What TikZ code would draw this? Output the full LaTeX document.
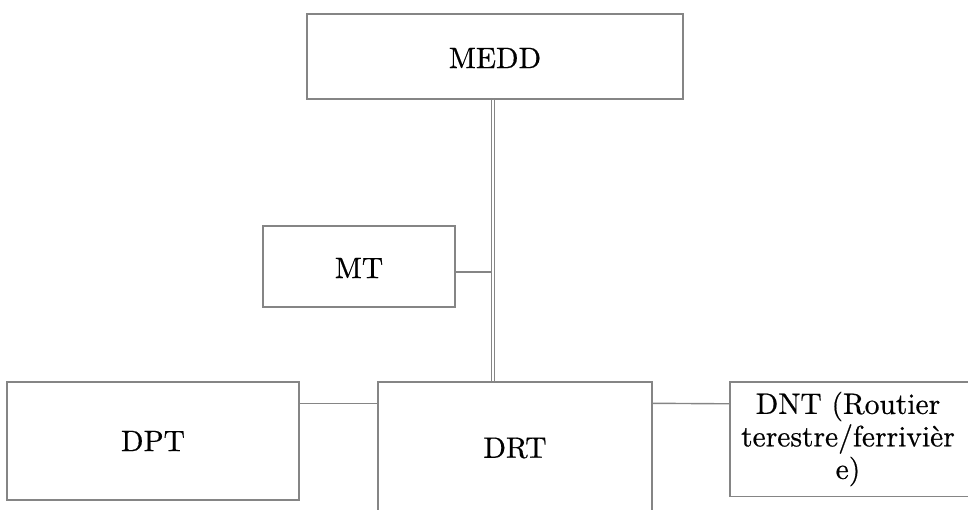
\documentclass[tikz,border=0pt]{standalone}
\usepackage{fontspec}
\newfontfamily\heavyserif{lmroman10-regular.otf}[FakeBold=0.6]
\usetikzlibrary{calc}
\begin{document}
\begin{tikzpicture}[x=1pt,y=-1pt,
  box/.style={draw=black!48, line width=1.4pt, fill=white, inner sep=0pt},
  openbox/.style={inner sep=0pt},
  lbl/.style={font=\heavyserif\fontsize{29.5}{32.5}\selectfont, align=center, inner sep=0pt},
  conn/.style={draw=black!48, line width=1.4pt},
  dbl/.style={draw=black!48, line width=1.2pt, double=white, double distance=2.4pt}]
\useasboundingbox (0,0) rectangle (968,510);
\clip (0,0) rectangle (968,510);
\node[box, minimum width=376pt, minimum height=85pt] (medd) at (495,56.5) {};
\node[lbl] (meddt) at (495,58) {MEDD};
\node[box, minimum width=192pt, minimum height=81pt] (mt) at (359,266.5) {};
\node[lbl] (mtt) at (359,268) {MT};
\node[box, minimum width=292pt, minimum height=118pt] (dpt) at (153,441) {};
\node[lbl] (dptt) at (153,441) {DPT};
\node[box, minimum width=274pt, minimum height=130pt] (drt) at (515,447) {};
\node[lbl] (drtt) at (515,448) {DRT};
\node[openbox, minimum width=300pt, minimum height=114pt] (dnt) at (880,439) {};
\draw[conn] (dnt.north east) -- (dnt.north west) -- (dnt.south west) -- (dnt.south east);
\node[lbl] (dntt) at (848,439) {DNT (Routier\\terestre/ferrivièr\\e)};
\draw[dbl] (medd.south -| 493,0) -- (drt.north -| 493,0);
\draw[conn] ($(mt.east)+(0,5.5)$) -- ($(mt.east -| 491.5,0)+(0,5.5)$);
\draw[conn] ($(dpt.north east)+(0,22)$) -- ($(drt.north west)+(0,22)$);
\draw[conn] ($(drt.north east)+(0,22)$) -- ($(dnt.north west)+(0,22)$);
\end{tikzpicture}
\end{document}
